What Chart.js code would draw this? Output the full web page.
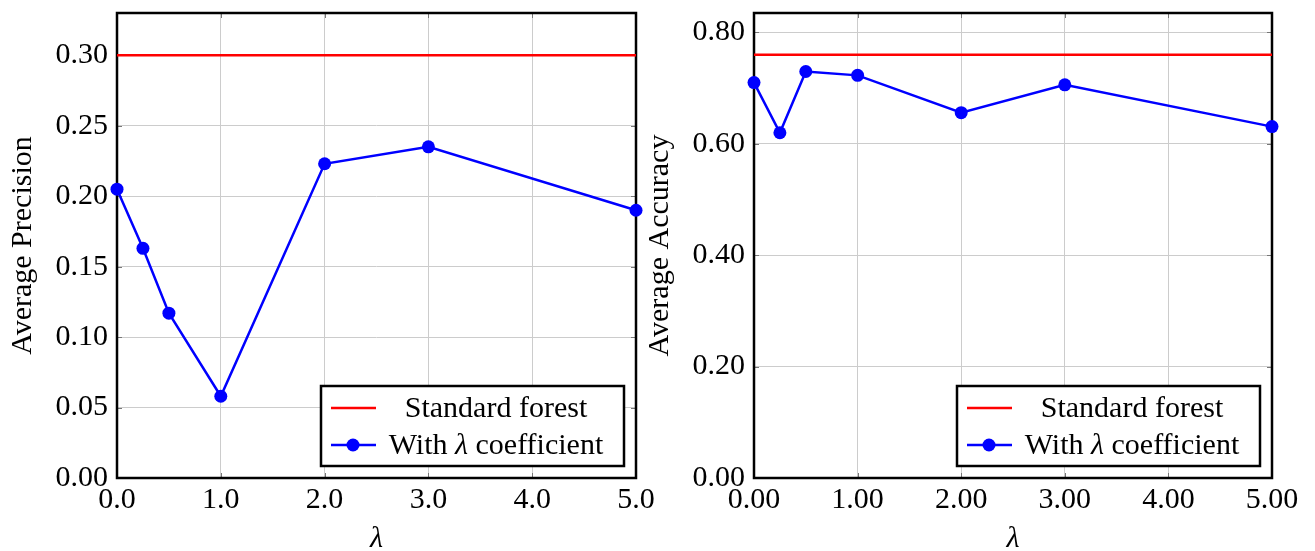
<!DOCTYPE html>
<html>
<head>
<meta charset="utf-8">
<script src="https://cdn.jsdelivr.net/npm/chart.js@4.4.1/dist/chart.umd.min.js"></script>
<style>
  html, body { margin: 0; padding: 0; background: #fff; }
  #wrap { position: relative; width: 1315px; height: 551px; overflow: hidden; }
  #left { position: absolute; left: 0; top: 0; }
  #right { position: absolute; left: 640px; top: 0; }
</style>
</head>
<body>
<div id="wrap">
  <canvas id="left" width="660" height="551"></canvas>
  <canvas id="right" width="675" height="551"></canvas>
</div>
<script>
// --- data ---
const lambdas = [0, 0.25, 0.5, 1, 2, 3, 5];
const precision = [0.205, 0.163, 0.117, 0.058, 0.223, 0.235, 0.190];
const accuracy = [0.710, 0.620, 0.730, 0.723, 0.656, 0.706, 0.631];
const standardPrecision = 0.30;
const standardAccuracy = 0.76;

const xTicks = [0, 1, 2, 3, 4, 5];
const precisionTicks = [0, 0.05, 0.10, 0.15, 0.20, 0.25, 0.30];
const accuracyTicks = [0, 0.20, 0.40, 0.60, 0.80];

const SERIF = "'Liberation Serif', 'Times New Roman', serif";
const RED = '#ff0000';
const BLUE = '#0000ff';

// frame, inner tick marks and the boxed legend (pgfplots look)
const framePlugin = {
  id: 'frame',
  beforeDatasetsDraw(chart) {
    const { ctx, chartArea: a, scales } = chart;
    ctx.save();
    ctx.strokeStyle = '#777';
    ctx.lineWidth = 1;
    const len = 5;
    scales.x.ticks.forEach(t => {
      const px = Math.round(scales.x.getPixelForValue(t.value)) + 0.5;
      ctx.beginPath();
      ctx.moveTo(px, a.top); ctx.lineTo(px, a.top + len);
      ctx.moveTo(px, a.bottom); ctx.lineTo(px, a.bottom - len);
      ctx.stroke();
    });
    scales.y.ticks.forEach(t => {
      const py = Math.round(scales.y.getPixelForValue(t.value)) + 0.5;
      ctx.beginPath();
      ctx.moveTo(a.left, py); ctx.lineTo(a.left + len, py);
      ctx.moveTo(a.right, py); ctx.lineTo(a.right - len, py);
      ctx.stroke();
    });
    ctx.strokeStyle = '#000';
    ctx.lineWidth = 2.5;
    ctx.strokeRect(a.left, a.top, a.right - a.left, a.bottom - a.top);
    ctx.restore();
  },
  afterDraw(chart) {
    const { ctx, chartArea: a } = chart;
    const w = 303, h = 80;
    const bx = a.right - 12 - w, by = a.bottom - 12 - h;
    ctx.save();
    ctx.fillStyle = '#fff';
    ctx.fillRect(bx, by, w, h);
    ctx.strokeStyle = '#000';
    ctx.lineWidth = 2.5;
    ctx.strokeRect(bx, by, w, h);

    const textCx = bx + 175;
    const rows = [by + 22, by + 59];
    const upright = '30px ' + SERIF;
    const italic = 'italic 30px ' + SERIF;
    ctx.textBaseline = 'middle';

    chart.data.datasets.forEach((ds, i) => {
      const y = rows[i];
      ctx.strokeStyle = ds.borderColor;
      ctx.lineWidth = ds.borderWidth;
      ctx.beginPath();
      ctx.moveTo(bx + 10, y); ctx.lineTo(bx + 55, y);
      ctx.stroke();
      if (ds.pointRadius > 0) {
        ctx.fillStyle = ds.pointBackgroundColor;
        ctx.beginPath();
        ctx.arc(bx + 32, y, ds.pointRadius, 0, Math.PI * 2);
        ctx.fill();
      }
      // label parts: math parts (lambda) in italic
      const parts = ds.label.split(/(λ)/).filter(s => s.length);
      let total = 0;
      const widths = parts.map(p => {
        ctx.font = p === 'λ' ? italic : upright;
        const wd = ctx.measureText(p).width;
        total += wd;
        return wd;
      });
      let x = textCx - total / 2;
      ctx.fillStyle = '#000';
      ctx.textAlign = 'left';
      parts.forEach((p, k) => {
        ctx.font = p === 'λ' ? italic : upright;
        ctx.fillText(p, x, y + 1);
        x += widths[k];
      });
    });
    ctx.restore();
  }
};

function makeChart(canvasId, values, standard, yTicks, yMax, yTitle, xDigits, pad, yWidth) {
  const ctx = document.getElementById(canvasId).getContext('2d');
  const xMin = Math.min(...lambdas), xMax = Math.max(...lambdas);
  return new Chart(ctx, {
    type: 'scatter',
    data: {
      datasets: [{
        label: 'Standard forest',
        data: [{ x: xMin, y: standard }, { x: xMax, y: standard }],
        showLine: true,
        borderColor: RED,
        borderWidth: 2.5,
        pointRadius: 0,
        clip: false
      }, {
        label: 'With λ coefficient',
        data: lambdas.map((l, i) => ({ x: l, y: values[i] })),
        showLine: true,
        borderColor: BLUE,
        borderWidth: 2.5,
        pointRadius: 6.5,
        pointBackgroundColor: BLUE,
        pointBorderColor: BLUE,
        pointBorderWidth: 0,
        clip: false
      }]
    },
    options: {
      responsive: false,
      animation: false,
      events: [],
      layout: { padding: pad },
      plugins: { legend: { display: false }, tooltip: { enabled: false } },
      scales: {
        x: {
          type: 'linear',
          min: xMin,
          max: xMax,
          afterBuildTicks: s => { s.ticks = xTicks.map(v => ({ value: v })); },
          afterFit: s => { s.height = 73; },
          grid: { color: '#cccccc', lineWidth: 1, drawTicks: false },
          border: { display: false },
          ticks: {
            color: '#000',
            padding: 4,
            maxRotation: 0,
            font: { family: SERIF, size: 30 },
            callback: v => Number(v).toFixed(xDigits)
          },
          title: {
            display: true,
            text: 'λ',
            color: '#000',
            padding: 0,
            font: { family: SERIF, size: 30, style: 'italic', lineHeight: 0.8 }
          }
        },
        y: {
          type: 'linear',
          min: 0,
          max: yMax,
          afterBuildTicks: s => { s.ticks = yTicks.map(v => ({ value: v })); },
          afterFit: s => { s.width = yWidth; },
          grid: { color: '#cccccc', lineWidth: 1, drawTicks: false },
          border: { display: false },
          ticks: {
            color: '#000',
            padding: 9,
            autoSkip: false,
            font: { family: SERIF, size: 30, lineHeight: 0.25 },
            callback: v => Number(v).toFixed(2)
          },
          title: {
            display: true,
            text: yTitle,
            color: '#000',
            padding: 0,
            font: { family: SERIF, size: 30, lineHeight: 1.2 }
          }
        }
      }
    },
    plugins: [framePlugin]
  });
}

makeChart('left', precision, standardPrecision, precisionTicks, 0.33,
  'Average Precision', 1, { left: 5, right: 24, top: 13, bottom: 0 }, 112);
makeChart('right', accuracy, standardAccuracy, accuracyTicks, 0.835,
  'Average Accuracy', 2, { left: 2, right: 43, top: 13, bottom: 0 }, 112);
</script>
</body>
</html>
